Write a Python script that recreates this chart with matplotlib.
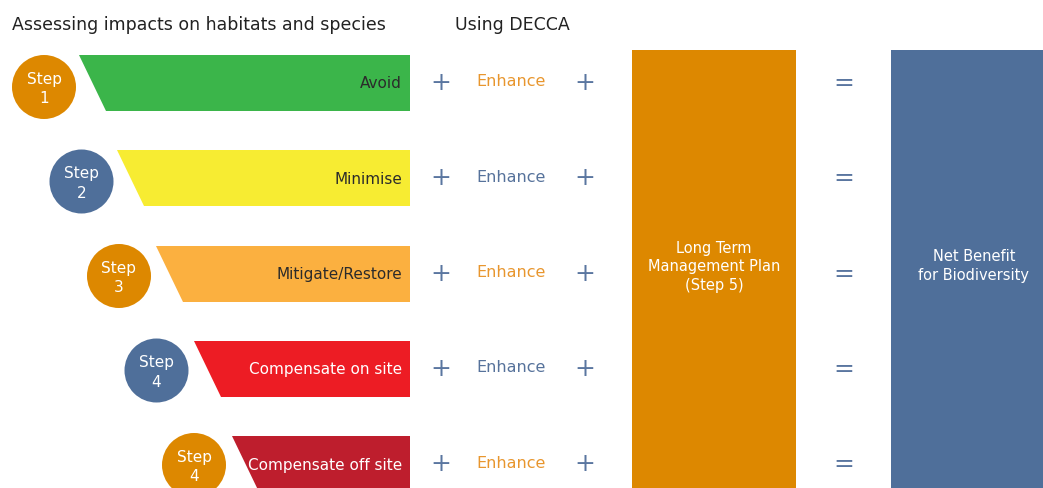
import matplotlib
matplotlib.use('Agg')
from matplotlib import pyplot as plt
from matplotlib.patches import Polygon, Circle, Rectangle

# rows of the mitigation hierarchy
steps = ['Step\n1', 'Step\n2', 'Step\n3', 'Step\n4', 'Step\n4']
actions = ['Avoid', 'Minimise', 'Mitigate/Restore', 'Compensate on site', 'Compensate off site']
banner_cols = ['#3bb54a', '#f7ec32', '#fbb040', '#ed1c24', '#be1e2d']
action_txt_cols = ['#2b2b2b', '#2b2b2b', '#2b2b2b', 'white', 'white']
circle_cols = ['#dd8800', '#4f6f9a', '#dd8800', '#4f6f9a', '#dd8800']
enhance_cols = ['#e8962e', '#56729b', '#e8962e', '#56729b', '#e8962e']

title_left = 'Assessing impacts on habitats and species'
title_mid = 'Using DECCA'
plan_label = 'Long Term\nManagement Plan\n(Step 5)'
benefit_label = 'Net Benefit\nfor Biodiversity'

ORANGE = '#dd8800'
BLUE = '#4f6f9a'
SIGN = '#5a76a0'

fig = plt.figure(figsize=(10.43, 4.89), dpi=100)
ax = fig.add_axes([0, 0, 1, 1])
ax.set_xlim(0, 1043)
ax.set_ylim(489, 0)
ax.axis('off')

ax.text(12, 25, title_left, fontsize=12.5, color='#222222', va='center', ha='left')
ax.text(455, 25, title_mid, fontsize=12.5, color='#222222', va='center', ha='left')

row_gap = 95.3
for i in range(len(actions)):
    top = 56 + row_gap * i
    bot = top + 56
    left = 79 + 38.3 * i
    ax.add_patch(Polygon([(left, top), (410, top), (410, bot), (left + 27, bot)],
                         closed=True, facecolor=banner_cols[i], edgecolor='none'))
    mid = (top + bot) / 2
    ax.text(402, mid, actions[i], ha='right', va='center', fontsize=11,
            color=action_txt_cols[i])

    cx = 44 + 37.5 * i
    cy = 88 + 94.5 * i
    ax.add_patch(Circle((cx, cy), 32, facecolor=circle_cols[i], edgecolor='none'))
    ax.text(cx, cy + 1, steps[i], ha='center', va='center', fontsize=11,
            color='white', linespacing=1.4)

    ax.text(441, mid - 1, '+', ha='center', va='center', fontsize=18, color=SIGN)
    ax.text(511, mid - 2, 'Enhance', ha='center', va='center', fontsize=11.5,
            color=enhance_cols[i])
    ax.text(585, mid - 1, '+', ha='center', va='center', fontsize=18, color=SIGN)
    ax.text(844, mid - 1, '=', ha='center', va='center', fontsize=18, color=SIGN)

ax.add_patch(Rectangle((632, 51), 164, 450, facecolor=ORANGE, edgecolor='none'))
ax.text(714, 267, plan_label, ha='center', va='center', fontsize=10.5,
        color='white', linespacing=1.3)

ax.add_patch(Rectangle((891, 51), 160, 450, facecolor=BLUE, edgecolor='none'))
ax.text(974, 266, benefit_label, ha='center', va='center', fontsize=10.5,
        color='white', linespacing=1.3)

fig.savefig('out.png', dpi=100)
